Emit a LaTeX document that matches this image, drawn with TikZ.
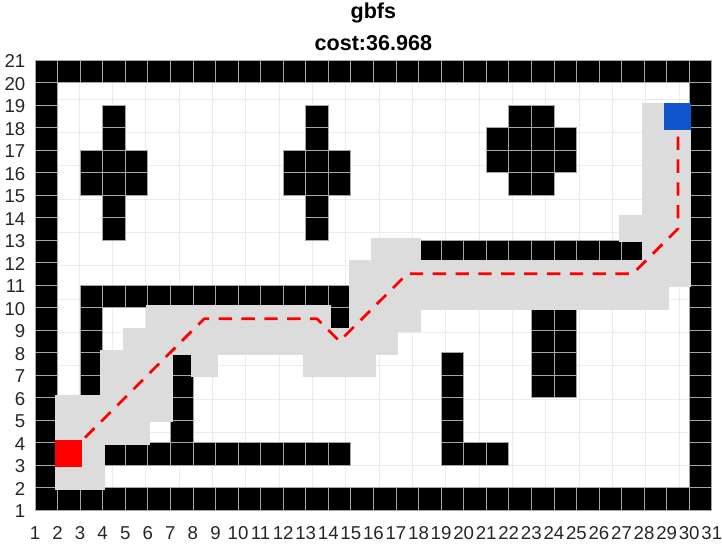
\documentclass[tikz,border=0pt]{standalone}
\usepackage{fontspec}
\setmainfont{Liberation Sans}
\usepackage{tikz}
\usetikzlibrary{calc}
\definecolor{seen}{RGB}{220,220,220}
\definecolor{goalblue}{RGB}{17,85,204}
\definecolor{ticktext}{RGB}{38,38,38}
\tikzset{
  wall/.style={fill=black,draw=gray!70,line width=0.6pt},
  seencell/.style={fill=seen,draw=none},
  gridline/.style={draw=gray!15,line width=0.6pt},
  route/.style={draw=red,line width=2.3pt,line join=round,dash pattern=on 11.4pt off 8.1pt},
  xlab/.style={inner sep=0pt,text=ticktext,font=\fontsize{15.9pt}{19pt}\selectfont},
  ylab/.style={xlab,anchor=east},
  ttl/.style={inner sep=0pt,anchor=base,font=\fontsize{18.4pt}{22pt}\selectfont\bfseries}
}

\begin{document}
\begin{tikzpicture}[x=0.6768cm,y=0.675cm]
\useasboundingbox (-0.551,-0.511) rectangle (31.453,23.667);
\fill[white](1,1)rectangle(31,21); %plot area
\draw[gridline](1,1)grid(31,21);
%outer walls
\foreach \i in {1,...,30}{
  \draw[wall](\i,1)rectangle++(1,1);
  \draw[wall](\i,20)rectangle++(1,1);
}
\foreach \j in {2,...,19}{
  \draw[wall](1,\j)rectangle++(1,1);
  \draw[wall](30,\j)rectangle++(1,1);
}
%inner walls
\foreach \i/\j in {4/13,4/14,4/17,4/18,3/15,4/15,5/15,3/16,4/16,5/16,
  13/13,13/14,13/17,13/18,12/15,13/15,14/15,12/16,13/16,14/16,
  22/18,23/18,21/17,22/17,23/17,24/17,21/16,22/16,23/16,24/16,22/15,23/15,
  3/6,3/7,3/8,3/9,14/9,7/4,7/5,7/6,7/7,
  19/3,20/3,21/3,19/4,19/5,19/6,19/7,
  23/6,24/6,23/7,24/7,23/8,24/8,23/9,24/9}
  \draw[wall](\i,\j)rectangle++(1,1);
\foreach \i in {18,...,27} \draw[wall](\i,12)rectangle++(1,1);
\foreach \i in {3,...,14} \draw[wall](\i,10)rectangle++(1,1);
\foreach \i in {4,...,14} \draw[wall](\i,3)rectangle++(1,1);
%visited cells
\foreach \i/\j in {2/2,3/2,2/3,3/3,2/4,3/4,2/5,3/5,4/4,5/4,4/5,5/5,6/5,
  4/6,5/6,6/6,4/7,5/7,6/7,5/8,6/8,7/8,6/9,7/9,8/7,8/8,8/9,
  13/7,14/7,15/7,14/8,15/8,16/8,15/9,16/9,17/9,15/10,16/10,17/10,
  15/11,16/11,17/11,16/12,17/12,28/12,29/12,27/13}
  \fill[seencell](\i-0.1,\j-0.1)rectangle(\i+1.1,\j+1.1);
\foreach \i in {9,...,13}{
  \fill[seencell](\i-0.1,7.9)rectangle(\i+1.1,10.1);
}
\foreach \i in {18,...,28} \fill[seencell](\i-0.1,9.9)rectangle(\i+1.1,12.1);
\fill[seencell](28.9,10.9)rectangle(30.1,12.1);
\foreach \j in {13,...,18} \fill[seencell](27.9,\j-0.1)rectangle(30.1,\j+1.1);
%path
\coordinate (start) at (2.5,3.5);
\coordinate (goal) at (29.5,18.5);
\draw[route](start)--(8.5,9.5)--(13.5,9.5)--(14.5,8.5)--(17.5,11.5)--(27.5,11.5)--(29.5,13.5)--(goal);
\fill[red]($(start)+(-0.6,-0.6)$)rectangle($(start)+(0.6,0.6)$);
\fill[goalblue]($(goal)+(-0.6,-0.6)$)rectangle($(goal)+(0.6,0.6)$);
%labels
\node[ttl](title)at(16,22.85){gbfs};
\node[ttl](cost)at(16,21.44){cost:36.968};
\foreach \i in {1,...,31} \node[xlab](xt\i)at(\i,-0.04){\i};
\foreach \j in {1,...,21} \node[ylab](yt\j)at(0.58,\j-0.06){\j};
\end{tikzpicture}
\end{document}
